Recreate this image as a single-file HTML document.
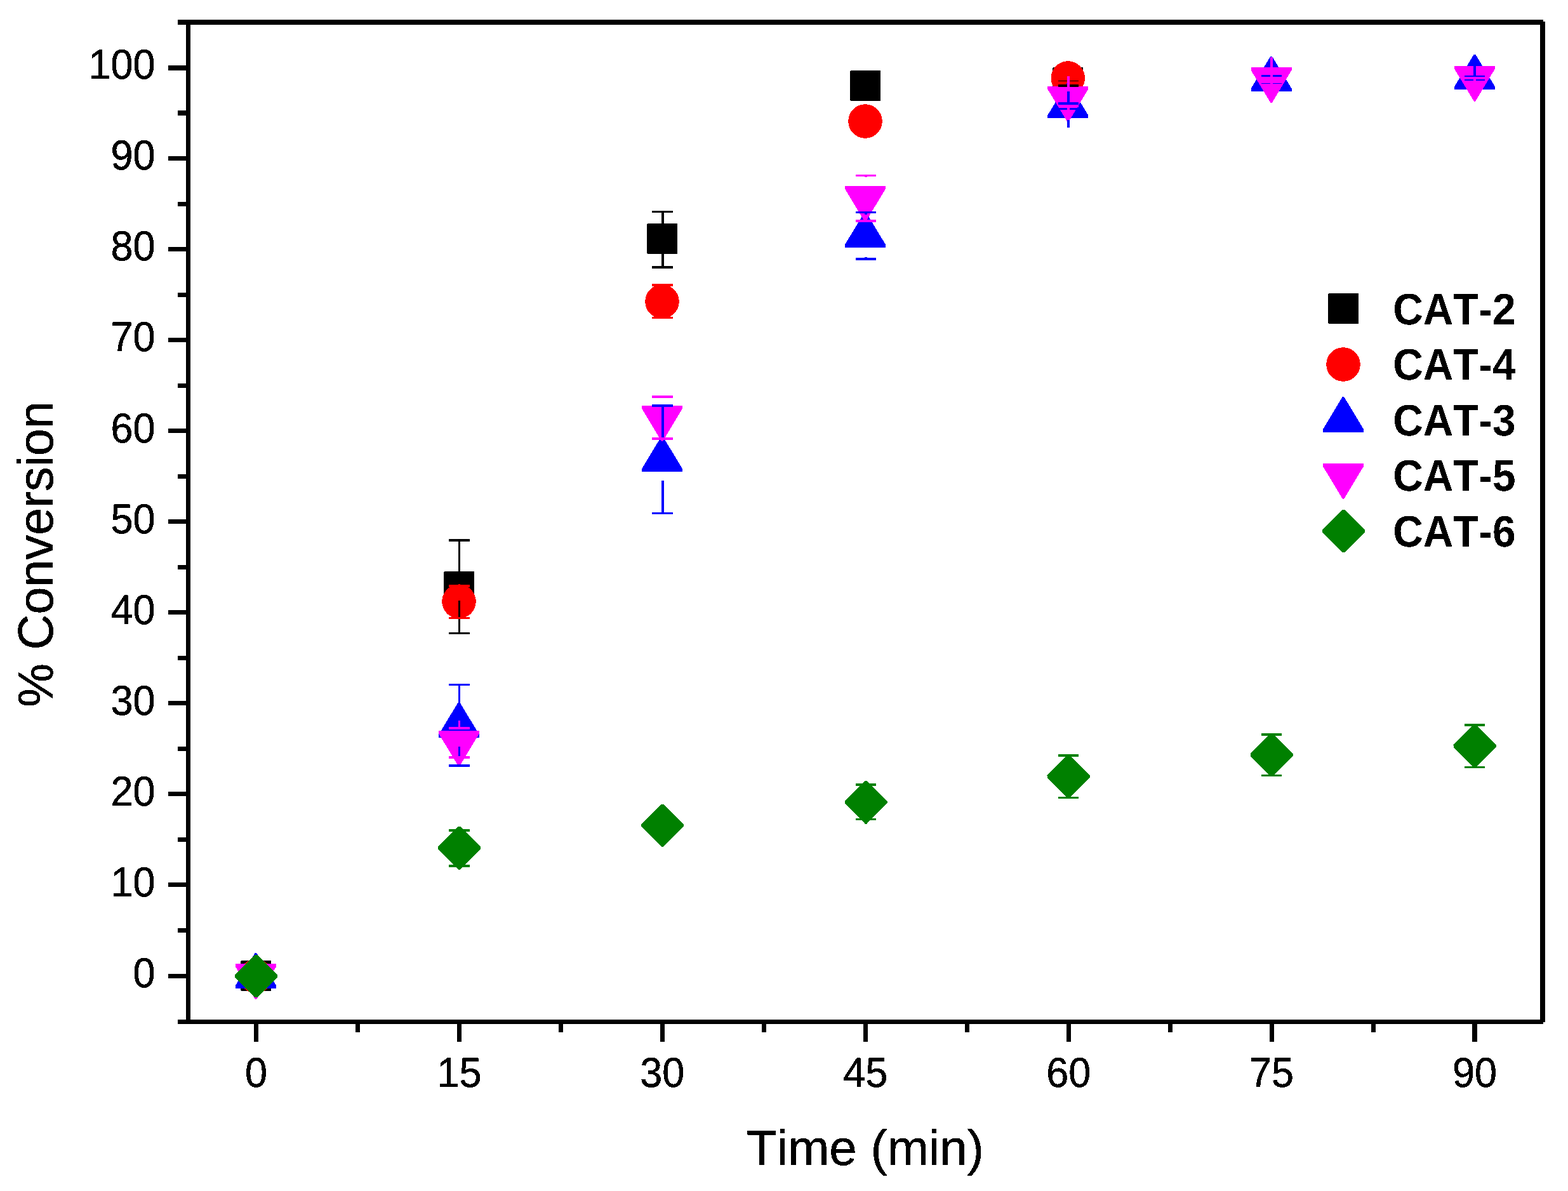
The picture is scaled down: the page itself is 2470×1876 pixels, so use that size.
<!DOCTYPE html>
<html lang="en">
<head>
<meta charset="utf-8">
<title>% Conversion vs Time (min)</title>
<style>
html, body { margin: 0; padding: 0; background: #ffffff; }
body { width: 2470px; height: 1876px; overflow: hidden; }
svg { display: block; }
text { white-space: pre; font-kerning: none; text-rendering: geometricPrecision; }
</style>
</head>
<body>
<svg width="2470" height="1876" viewBox="0 0 2470 1876" role="img" aria-label="Percent conversion versus time for catalysts CAT-2 to CAT-6">
<defs>
<filter id="alias" x="-10%" y="-10%" width="120%" height="120%" color-interpolation-filters="sRGB">
<feComponentTransfer><feFuncA type="discrete" tableValues="0 1"/></feComponentTransfer>
</filter>
</defs>
<rect x="0" y="0" width="2470" height="1876" fill="#ffffff"/>
<g id="frame" shape-rendering="crispEdges">
<rect x="293" y="31" width="2138" height="8" fill="#000000"/>
<rect x="293" y="1606" width="2138" height="7" fill="#000000"/>
<rect x="293" y="31" width="7" height="1582" fill="#000000"/>
<rect x="2426" y="34" width="8" height="1576" fill="#000000"/>
</g>
<g id="ticks" shape-rendering="crispEdges">
<rect x="280" y="1606" width="14" height="7" fill="#000000"/>
<rect x="265" y="1534" width="29" height="7" fill="#000000"/>
<rect x="280" y="1462" width="14" height="7" fill="#000000"/>
<rect x="265" y="1390" width="29" height="7" fill="#000000"/>
<rect x="280" y="1319" width="14" height="7" fill="#000000"/>
<rect x="265" y="1247" width="29" height="7" fill="#000000"/>
<rect x="280" y="1176" width="14" height="7" fill="#000000"/>
<rect x="265" y="1104" width="29" height="7" fill="#000000"/>
<rect x="280" y="1033" width="14" height="7" fill="#000000"/>
<rect x="265" y="961" width="29" height="7" fill="#000000"/>
<rect x="280" y="890" width="14" height="7" fill="#000000"/>
<rect x="265" y="818" width="29" height="7" fill="#000000"/>
<rect x="280" y="747" width="14" height="7" fill="#000000"/>
<rect x="265" y="675" width="29" height="7" fill="#000000"/>
<rect x="280" y="604" width="14" height="7" fill="#000000"/>
<rect x="265" y="532" width="29" height="7" fill="#000000"/>
<rect x="280" y="461" width="14" height="7" fill="#000000"/>
<rect x="265" y="389" width="29" height="7" fill="#000000"/>
<rect x="280" y="318" width="14" height="7" fill="#000000"/>
<rect x="265" y="246" width="29" height="7" fill="#000000"/>
<rect x="280" y="174" width="14" height="8" fill="#000000"/>
<rect x="265" y="103" width="29" height="8" fill="#000000"/>
<rect x="280" y="31" width="14" height="8" fill="#000000"/>
<rect x="400" y="1612" width="7" height="29" fill="#000000"/>
<rect x="560" y="1612" width="7" height="14" fill="#000000"/>
<rect x="720" y="1612" width="7" height="29" fill="#000000"/>
<rect x="880" y="1612" width="7" height="14" fill="#000000"/>
<rect x="1040" y="1612" width="7" height="29" fill="#000000"/>
<rect x="1200" y="1612" width="7" height="14" fill="#000000"/>
<rect x="1360" y="1612" width="7" height="29" fill="#000000"/>
<rect x="1520" y="1612" width="7" height="14" fill="#000000"/>
<rect x="1680" y="1612" width="7" height="29" fill="#000000"/>
<rect x="1840" y="1612" width="7" height="14" fill="#000000"/>
<rect x="2000" y="1612" width="7" height="29" fill="#000000"/>
<rect x="2160" y="1612" width="7" height="14" fill="#000000"/>
<rect x="2319" y="1612" width="8" height="29" fill="#000000"/>
</g>
<g id="ticklabels" filter="url(#alias)" font-family="'Liberation Sans', sans-serif" font-size="65.8" fill="#000" stroke="#000" stroke-width="0.5">
<text transform="translate(244.6,1554.8) scale(0.9575,1)" text-anchor="end">0</text>
<text transform="translate(244.6,1411.8) scale(0.9575,1)" text-anchor="end">10</text>
<text transform="translate(244.6,1268.7) scale(0.9575,1)" text-anchor="end">20</text>
<text transform="translate(244.6,1125.6) scale(0.9575,1)" text-anchor="end">30</text>
<text transform="translate(244.6,982.6) scale(0.9575,1)" text-anchor="end">40</text>
<text transform="translate(244.6,839.5) scale(0.9575,1)" text-anchor="end">50</text>
<text transform="translate(244.6,696.5) scale(0.9575,1)" text-anchor="end">60</text>
<text transform="translate(244.6,553.4) scale(0.9575,1)" text-anchor="end">70</text>
<text transform="translate(244.6,410.4) scale(0.9575,1)" text-anchor="end">80</text>
<text transform="translate(244.6,267.3) scale(0.9575,1)" text-anchor="end">90</text>
<text transform="translate(244.6,124.3) scale(0.9575,1)" text-anchor="end">100</text>
<text transform="translate(403.5,1711.9) scale(0.9575,1)" text-anchor="middle">0</text>
<text transform="translate(723.4,1711.9) scale(0.9575,1)" text-anchor="middle">15</text>
<text transform="translate(1043.3,1711.9) scale(0.9575,1)" text-anchor="middle">30</text>
<text transform="translate(1363.3,1711.9) scale(0.9575,1)" text-anchor="middle">45</text>
<text transform="translate(1683.2,1711.9) scale(0.9575,1)" text-anchor="middle">60</text>
<text transform="translate(2003.1,1711.9) scale(0.9575,1)" text-anchor="middle">75</text>
<text transform="translate(2323.0,1711.9) scale(0.9575,1)" text-anchor="middle">90</text>
</g>
<g id="titles" filter="url(#alias)" font-family="'Liberation Sans', sans-serif" font-size="78" fill="#000" stroke="#000" stroke-width="0.5">
<text transform="translate(1362.9,1835) scale(1.003,1)" text-anchor="middle">Time (min)</text>
<text transform="translate(83,873) rotate(-90) scale(0.9925,1)" text-anchor="middle">% Conversion</text>
</g>
<g id="symbols" shape-rendering="crispEdges">
<polygon points="380.00,1513.00 426.00,1513.00 427.00,1514.00 427.00,1560.00 426.00,1561.00 380.00,1561.00 379.00,1560.00 379.00,1514.00" fill="#000000"/>
<polygon points="700.00,900.00 746.00,900.00 747.00,901.00 747.00,947.00 746.00,948.00 700.00,948.00 699.00,947.00 699.00,901.00" fill="#000000"/>
<polygon points="1020.00,352.00 1066.00,352.00 1067.00,353.00 1067.00,399.00 1066.00,400.00 1020.00,400.00 1019.00,399.00 1019.00,353.00" fill="#000000"/>
<polygon points="1340.00,111.00 1386.00,111.00 1387.00,112.00 1387.00,158.00 1386.00,159.00 1340.00,159.00 1339.00,158.00 1339.00,112.00" fill="#000000"/>
<polygon points="1659.30,106.00 1705.30,106.00 1706.30,107.00 1706.30,153.00 1705.30,154.00 1659.30,154.00 1658.30,153.00 1658.30,107.00" fill="#000000"/>
<circle cx="403.00" cy="1537.50" r="26.8" fill="#ff0000"/>
<circle cx="723.00" cy="947.40" r="26.8" fill="#ff0000"/>
<circle cx="1043.00" cy="475.00" r="26.8" fill="#ff0000"/>
<circle cx="1363.00" cy="191.00" r="26.8" fill="#ff0000"/>
<circle cx="1682.30" cy="123.00" r="26.8" fill="#ff0000"/>
<polygon points="401.80,1501.00 404.20,1501.00 435.00,1552.10 435.00,1556.60 371.00,1556.60 371.00,1552.10" fill="#0000ff"/>
<polygon points="721.80,1106.10 724.20,1106.10 755.00,1157.20 755.00,1161.70 691.00,1161.70 691.00,1157.20" fill="#0000ff"/>
<polygon points="1041.80,687.40 1044.20,687.40 1075.00,738.50 1075.00,743.00 1011.00,743.00 1011.00,738.50" fill="#0000ff"/>
<polygon points="1361.80,334.20 1364.20,334.20 1395.00,385.30 1395.00,389.80 1331.00,389.80 1331.00,385.30" fill="#0000ff"/>
<polygon points="1681.10,130.40 1683.50,130.40 1714.30,181.50 1714.30,186.00 1650.30,186.00 1650.30,181.50" fill="#0000ff"/>
<polygon points="2001.40,88.50 2003.80,88.50 2034.60,139.60 2034.60,144.10 1970.60,144.10 1970.60,139.60" fill="#0000ff"/>
<polygon points="2321.80,85.50 2324.20,85.50 2355.00,136.60 2355.00,141.10 2291.00,141.10 2291.00,136.60" fill="#0000ff"/>
<polygon points="371.00,1518.20 435.00,1518.20 435.00,1522.70 404.20,1573.80 401.80,1573.80 371.00,1522.70" fill="#ff00ff"/>
<polygon points="691.00,1150.90 755.00,1150.90 755.00,1155.40 724.20,1206.50 721.80,1206.50 691.00,1155.40" fill="#ff00ff"/>
<polygon points="1011.00,639.10 1075.00,639.10 1075.00,643.60 1044.20,694.70 1041.80,694.70 1011.00,643.60" fill="#ff00ff"/>
<polygon points="1331.00,293.00 1395.00,293.00 1395.00,297.50 1364.20,348.60 1361.80,348.60 1331.00,297.50" fill="#ff00ff"/>
<polygon points="1650.30,136.00 1714.30,136.00 1714.30,140.50 1683.50,191.60 1681.10,191.60 1650.30,140.50" fill="#ff00ff"/>
<polygon points="1970.60,106.20 2034.60,106.20 2034.60,110.70 2003.80,161.80 2001.40,161.80 1970.60,110.70" fill="#ff00ff"/>
<polygon points="2291.00,103.90 2355.00,103.90 2355.00,108.40 2324.20,159.50 2321.80,159.50 2291.00,108.40" fill="#ff00ff"/>
<polygon points="401.70,1503.90 405.30,1503.90 437.00,1535.60 437.00,1539.20 405.30,1570.90 401.70,1570.90 370.00,1539.20 370.00,1535.60" fill="#008000"/>
<polygon points="721.70,1302.00 725.30,1302.00 757.00,1333.70 757.00,1337.30 725.30,1369.00 721.70,1369.00 690.00,1337.30 690.00,1333.70" fill="#008000"/>
<polygon points="1041.70,1266.50 1045.30,1266.50 1077.00,1298.20 1077.00,1301.80 1045.30,1333.50 1041.70,1333.50 1010.00,1301.80 1010.00,1298.20" fill="#008000"/>
<polygon points="1362.20,1230.10 1365.80,1230.10 1397.50,1261.80 1397.50,1265.40 1365.80,1297.10 1362.20,1297.10 1330.50,1265.40 1330.50,1261.80" fill="#008000"/>
<polygon points="1681.20,1189.80 1684.80,1189.80 1716.50,1221.50 1716.50,1225.10 1684.80,1256.80 1681.20,1256.80 1649.50,1225.10 1649.50,1221.50" fill="#008000"/>
<polygon points="2001.20,1155.70 2004.80,1155.70 2036.50,1187.40 2036.50,1191.00 2004.80,1222.70 2001.20,1222.70 1969.50,1191.00 1969.50,1187.40" fill="#008000"/>
<polygon points="2321.20,1141.80 2324.80,1141.80 2356.50,1173.50 2356.50,1177.10 2324.80,1208.80 2321.20,1208.80 2289.50,1177.10 2289.50,1173.50" fill="#008000"/>
</g>
<g id="errorbars" shape-rendering="crispEdges">
<rect x="722" y="849" width="3" height="53" fill="#000000"/>
<rect x="722" y="946" width="3" height="53" fill="#000000"/>
<rect x="707" y="849" width="33" height="4" fill="#000000"/>
<rect x="707" y="996" width="33" height="3" fill="#000000"/>
<rect x="1042" y="332" width="4" height="22" fill="#000000"/>
<rect x="1042" y="398" width="4" height="25" fill="#000000"/>
<rect x="1027" y="332" width="33" height="3" fill="#000000"/>
<rect x="1027" y="419" width="33" height="4" fill="#000000"/>
<rect x="1681" y="108" width="4" height="20" fill="#000000"/>
<rect x="1681" y="133" width="4" height="19" fill="#000000"/>
<rect x="1667" y="124" width="32" height="4" fill="#000000"/>
<rect x="1667" y="133" width="32" height="4" fill="#000000"/>
<rect x="722" y="920" width="3" height="5" fill="#ff0000"/>
<rect x="722" y="972" width="3" height="3" fill="#ff0000"/>
<rect x="707" y="921" width="33" height="4" fill="#ff0000"/>
<rect x="707" y="972" width="33" height="3" fill="#ff0000"/>
<rect x="1042" y="447" width="4" height="4" fill="#ff0000"/>
<rect x="1042" y="499" width="4" height="3" fill="#ff0000"/>
<rect x="1027" y="447" width="33" height="4" fill="#ff0000"/>
<rect x="1027" y="499" width="33" height="3" fill="#ff0000"/>
<rect x="1681" y="96" width="4" height="27" fill="#ff0000"/>
<rect x="1681" y="123" width="4" height="27" fill="#ff0000"/>
<rect x="1667" y="119" width="32" height="4" fill="#ff0000"/>
<rect x="1667" y="123" width="32" height="4" fill="#ff0000"/>
<rect x="722" y="1077" width="3" height="33" fill="#0000ff"/>
<rect x="722" y="1176" width="3" height="32" fill="#0000ff"/>
<rect x="707" y="1077" width="33" height="3" fill="#0000ff"/>
<rect x="707" y="1204" width="33" height="4" fill="#0000ff"/>
<rect x="1042" y="637" width="4" height="54" fill="#0000ff"/>
<rect x="1042" y="757" width="4" height="53" fill="#0000ff"/>
<rect x="1027" y="637" width="33" height="4" fill="#0000ff"/>
<rect x="1027" y="807" width="33" height="3" fill="#0000ff"/>
<rect x="1362" y="333" width="4" height="5" fill="#0000ff"/>
<rect x="1362" y="405" width="4" height="5" fill="#0000ff"/>
<rect x="1348" y="333" width="32" height="3" fill="#0000ff"/>
<rect x="1348" y="406" width="32" height="4" fill="#0000ff"/>
<rect x="1681" y="134" width="4" height="31" fill="#0000ff"/>
<rect x="1681" y="170" width="4" height="31" fill="#0000ff"/>
<rect x="1667" y="161" width="32" height="4" fill="#0000ff"/>
<rect x="1667" y="170" width="32" height="3" fill="#0000ff"/>
<rect x="2001" y="92" width="4" height="29" fill="#0000ff"/>
<rect x="2001" y="129" width="4" height="30" fill="#0000ff"/>
<rect x="1987" y="118" width="32" height="3" fill="#0000ff"/>
<rect x="1987" y="129" width="32" height="3" fill="#0000ff"/>
<rect x="2321" y="89" width="4" height="33" fill="#0000ff"/>
<rect x="2321" y="124" width="4" height="32" fill="#0000ff"/>
<rect x="2307" y="119" width="32" height="3" fill="#0000ff"/>
<rect x="2307" y="124" width="32" height="3" fill="#0000ff"/>
<rect x="722" y="1135" width="3" height="14" fill="#ff00ff"/>
<rect x="722" y="1191" width="3" height="13" fill="#ff00ff"/>
<rect x="707" y="1145" width="33" height="4" fill="#ff00ff"/>
<rect x="707" y="1191" width="33" height="4" fill="#ff00ff"/>
<rect x="1042" y="623" width="4" height="4" fill="#ff00ff"/>
<rect x="1042" y="689" width="4" height="4" fill="#ff00ff"/>
<rect x="1027" y="623" width="33" height="4" fill="#ff00ff"/>
<rect x="1027" y="689" width="33" height="4" fill="#ff00ff"/>
<rect x="1362" y="275" width="4" height="4" fill="#ff00ff"/>
<rect x="1362" y="346" width="4" height="4" fill="#ff00ff"/>
<rect x="1348" y="275" width="32" height="3" fill="#ff00ff"/>
<rect x="1348" y="346" width="32" height="4" fill="#ff00ff"/>
<rect x="1681" y="120" width="4" height="24" fill="#ff00ff"/>
<rect x="1681" y="165" width="4" height="24" fill="#ff00ff"/>
<rect x="1667" y="140" width="32" height="4" fill="#ff00ff"/>
<rect x="1667" y="165" width="32" height="4" fill="#ff00ff"/>
<rect x="2001" y="90" width="4" height="34" fill="#ff00ff"/>
<rect x="2001" y="128" width="4" height="31" fill="#ff00ff"/>
<rect x="1987" y="121" width="32" height="3" fill="#ff00ff"/>
<rect x="1987" y="128" width="32" height="3" fill="#ff00ff"/>
<rect x="2321" y="121" width="4" height="36" fill="#ff00ff"/>
<rect x="2307" y="121" width="32" height="4" fill="#ff00ff"/>
<rect x="2307" y="121" width="32" height="4" fill="#ff00ff"/>
<rect x="722" y="1302" width="3" height="8" fill="#008000"/>
<rect x="722" y="1362" width="3" height="8" fill="#008000"/>
<rect x="707" y="1306" width="33" height="4" fill="#008000"/>
<rect x="707" y="1362" width="33" height="4" fill="#008000"/>
<rect x="1362" y="1230" width="4" height="8" fill="#008000"/>
<rect x="1362" y="1289" width="4" height="9" fill="#008000"/>
<rect x="1348" y="1234" width="32" height="4" fill="#008000"/>
<rect x="1348" y="1289" width="32" height="3" fill="#008000"/>
<rect x="1681" y="1188" width="4" height="4" fill="#008000"/>
<rect x="1681" y="1255" width="4" height="3" fill="#008000"/>
<rect x="1667" y="1188" width="32" height="4" fill="#008000"/>
<rect x="1667" y="1255" width="32" height="3" fill="#008000"/>
<rect x="2001" y="1155" width="4" height="4" fill="#008000"/>
<rect x="2001" y="1220" width="4" height="3" fill="#008000"/>
<rect x="1987" y="1155" width="32" height="4" fill="#008000"/>
<rect x="1987" y="1220" width="32" height="3" fill="#008000"/>
<rect x="2321" y="1140" width="4" height="4" fill="#008000"/>
<rect x="2321" y="1207" width="4" height="3" fill="#008000"/>
<rect x="2307" y="1140" width="32" height="4" fill="#008000"/>
<rect x="2307" y="1207" width="32" height="3" fill="#008000"/>
</g>
<g id="legend" shape-rendering="crispEdges">
<polygon points="2093.00,462.00 2139.00,462.00 2140.00,463.00 2140.00,509.00 2139.00,510.00 2093.00,510.00 2092.00,509.00 2092.00,463.00" fill="#000000"/>
<circle cx="2116.00" cy="574.00" r="26.8" fill="#ff0000"/>
<polygon points="2114.80,625.00 2117.20,625.00 2148.00,676.10 2148.00,680.60 2084.00,680.60 2084.00,676.10" fill="#0000ff"/>
<polygon points="2084.00,730.20 2148.00,730.20 2148.00,734.70 2117.20,785.80 2114.80,785.80 2084.00,734.70" fill="#ff00ff"/>
<polygon points="2114.70,803.20 2118.30,803.20 2150.00,834.90 2150.00,838.50 2118.30,870.20 2114.70,870.20 2083.00,838.50 2083.00,834.90" fill="#008000"/>
<g filter="url(#alias)" font-family="'Liberation Sans', sans-serif" font-size="69.6" font-weight="bold" fill="#000">
<text transform="translate(2194.2,510.80) scale(0.944,1)">CAT-2</text>
<text transform="translate(2194.2,598.35) scale(0.944,1)">CAT-4</text>
<text transform="translate(2194.2,685.90) scale(0.944,1)">CAT-3</text>
<text transform="translate(2194.2,773.45) scale(0.944,1)">CAT-5</text>
<text transform="translate(2194.2,861.00) scale(0.944,1)">CAT-6</text>
</g></g>
</svg>
</body>
</html>
